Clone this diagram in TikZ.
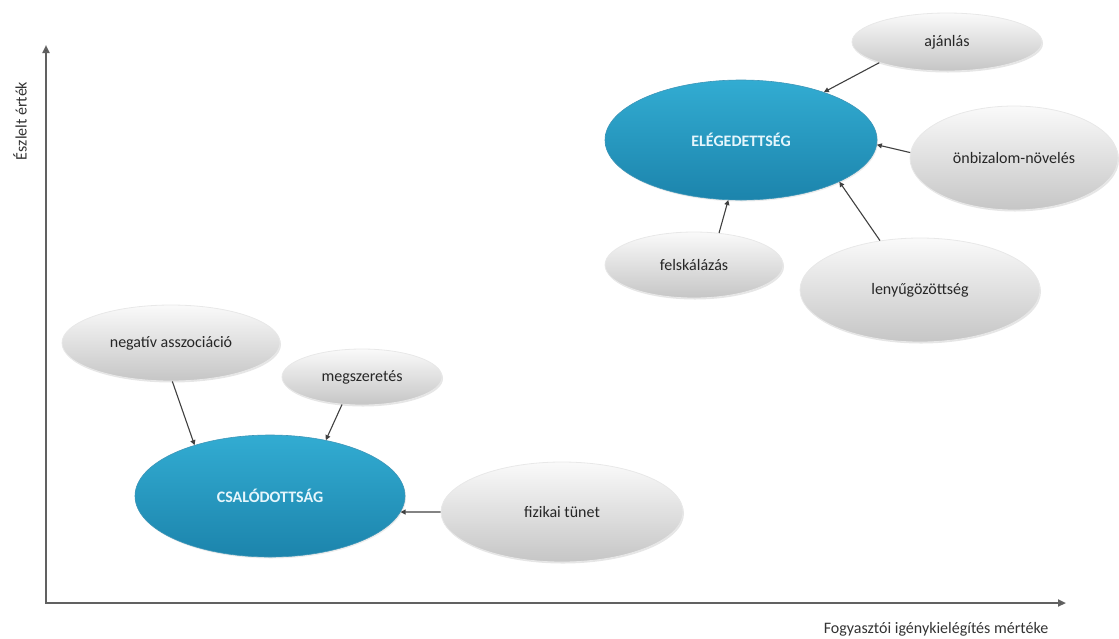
\documentclass[tikz,border=0pt]{standalone}
\usepackage{fontspec}
\setmainfont{Carlito}
\usetikzlibrary{shapes.geometric,arrows.meta,shadows}
\definecolor{bluetop}{RGB}{50,172,210}
\definecolor{bluebot}{RGB}{28,132,172}
\definecolor{bluetext}{RGB}{230,246,252}
\begin{document}
\begin{tikzpicture}[x=1pt,y=-1pt,
  grayell/.style={ellipse, inner sep=0pt, top color=white!96!gray, bottom color=gray!45,
    draw=gray!18, line width=0.8pt, font=\fontsize{16}{19}\selectfont, text=black!85,
    drop shadow={opacity=0.2,shadow xshift=1pt,shadow yshift=-1.5pt}},
  blueell/.style={ellipse, inner sep=0pt, top color=bluetop, bottom color=bluebot,
    draw=bluebot!85, line width=0.6pt, font=\fontsize{16}{19}\selectfont\bfseries, text=bluetext,
    drop shadow={opacity=0.15,shadow xshift=1pt,shadow yshift=-1.5pt}},
  conn/.style={draw=black!75, line width=1.1pt, -{Triangle[length=5pt,width=5pt]}},
  axisline/.style={draw=black!62, line width=2pt,
    {Triangle[length=8pt,width=7pt,fill=black!85]}-{Triangle[length=8pt,width=7pt,fill=black!85]}},
  lab/.style={font=\fontsize{16}{19}\selectfont, text=black!80}]
\useasboundingbox (0,0) rectangle (1119,638);

% axes
\coordinate (O) at (46,603);
\coordinate (ytop) at (46,45);
\coordinate (xend) at (1066,603);
\draw[axisline] (ytop) -- (O) -- (xend);
\node[lab, rotate=90] (ylab) at (20,121) {Észlelt érték};
\node[lab] (xlab) at (936,629) {Fogyasztói igénykielégítés mértéke};

% upper cluster
\node[blueell, minimum width=272pt, minimum height=120pt] (eleg) at (741,140) {ELÉGEDETTSÉG};
\node[grayell, minimum width=190pt, minimum height=58pt] (ajan) at (947,42) {ajánlás};
\node[grayell, minimum width=208pt, minimum height=104pt] (onbi) at (1014,158) {önbizalom-növelés};
\node[grayell, minimum width=178pt, minimum height=66pt] (fels) at (694,265) {felskálázás};
\node[grayell, minimum width=240pt, minimum height=104pt] (leny) at (920,290) {lenyűgözöttség};

% lower cluster
\node[blueell, minimum width=270pt, minimum height=122pt] (csal) at (270,496) {CSALÓDOTTSÁG};
\node[grayell, minimum width=218pt, minimum height=76pt] (nega) at (171,343) {negatív asszociáció};
\node[grayell, minimum width=160pt, minimum height=56pt] (megs) at (362,377) {megszeretés};
\node[grayell, minimum width=242pt, minimum height=100pt] (fizi) at (562,512) {fizikai tünet};

% connectors
\draw[conn] (ajan.197) -- (eleg.30);
\draw[conn] (onbi.177) -- (eleg.-2);
\draw[conn] (leny.129) -- (eleg.-23);
\draw[conn] (fels.52) -- (eleg.-102);
\draw[conn] (nega.-88) -- (csal.146);
\draw[conn] (megs.-126) -- (csal.45);
\draw[conn] (fizi.180) -- (csal.-7);
\end{tikzpicture}
\end{document}
